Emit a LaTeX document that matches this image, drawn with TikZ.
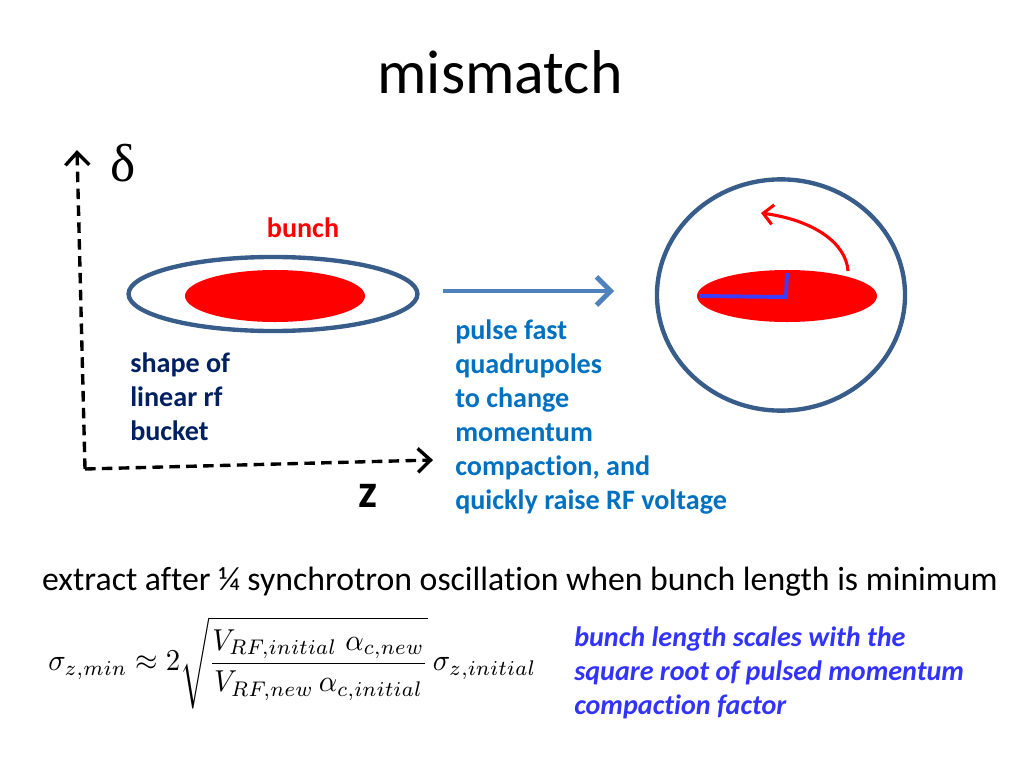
\documentclass[tikz,border=0pt]{standalone}
\usepackage{fontspec}
\usepackage{amsmath}
\usepackage{graphicx}
\setmainfont[Ligatures={NoCommon}]{Carlito}
\newfontfamily\greekfont{Liberation Serif}
\usetikzlibrary{shapes.geometric,arrows.meta}
\definecolor{bucketblue}{RGB}{56,93,138}
\definecolor{arrowblue}{RGB}{79,129,189}
\definecolor{navytext}{RGB}{0,32,96}
\definecolor{pulsetext}{RGB}{0,112,192}
\definecolor{notetext}{RGB}{51,51,255}
\definecolor{lineblue}{RGB}{60,60,255}
\tikzset{
  outline/.style={draw=bucketblue,line width=3.1pt,ellipse,inner sep=0pt},
  bunchfill/.style={fill=red,ellipse,inner sep=0pt,minimum width=4.5cm,minimum height=1.3cm},
  axis/.style={line width=2.4pt,dash pattern=on 7.5pt off 4.5pt,-{Straight Barb[length=9pt,width=17pt]}},
  textblock/.style={anchor=north west,align=left,inner sep=0pt,font=\fontsize{20}{24.2}\selectfont\bfseries}
}
\begin{document}
\begin{tikzpicture}[x=0.025cm,y=-0.025cm]
\useasboundingbox (0,0) rectangle (1024,768);
% title
\node (title) at (500,72) {\fontsize{44}{50}\selectfont mismatch};
% axes
\coordinate (origin) at (85,469);
\coordinate (dtip) at (77,150);
\coordinate (ztip) at (433,460);
\draw [axis] (origin) -- (dtip);
\draw [axis] (origin) -- (ztip);
\node (delta) at (123,163) {\greekfont\fontsize{38}{42}\selectfont δ};
\node (zlabel) at (368,496) {\fontsize{34}{38}\selectfont\bfseries z};
% rf bucket and bunch
\node [outline,minimum width=7.22cm,minimum height=1.85cm] (bucket) at (273,294) {};
\node [bunchfill] (bunchL) at (275,296) {};
\node [text=red,font=\fontsize{20}{24}\selectfont\bfseries] (bunchlabel) at (303,228) {bunch};
\node [textblock,text=navytext] (shape) at (130,352) {shape of\\linear rf\\bucket};
% pulse arrow
\coordinate (pstart) at (443,291);
\coordinate (pend) at (614,291);
\draw [arrowblue,line width=3.5pt,-{Straight Barb[length=10pt,width=20pt]}] (pstart) -- (pend);
\node [textblock,text=pulsetext] (pulse) at (455,319) {pulse fast\\quadrupoles\\to change\\momentum\\compaction, and\\quickly raise RF voltage};
% rotated bucket
\node [outline,minimum width=6.2cm,minimum height=5.78cm] (phase) at (781,295) {};
\node [bunchfill] (bunchR) at (787,296) {};
\coordinate (lstart) at (700,296);
\coordinate (lcorner) at (786,297);
\coordinate (ltop) at (787,273);
\draw [lineblue,line width=2.8pt] (lstart) -- (lcorner) -- (ltop);
\coordinate (rstart) at (848,271);
\coordinate (rtip) at (761,213);
\draw [red,line width=2.2pt,-{Straight Barb[length=7pt,width=14pt]}] (rstart) .. controls (846,242) and (812,220) .. (rtip);
% bottom text
\node [inner sep=0pt,font=\fontsize{24}{28}\selectfont] (extract) at (520,582) {extract after ¼ synchrotron oscillation when bunch length is minimum};
\node [anchor=west,inner sep=0pt] (formula) at (48,663) {\resizebox*{12.2cm}{2.3cm}{$\sigma_{z,min} \approx 2\sqrt{\dfrac{V_{RF,initial}\;\alpha_{c,new}}{V_{RF,new}\,\alpha_{c,initial}}}\,\sigma_{z,initial}$}};
\node [textblock,text=notetext,font=\fontsize{20}{24.2}\selectfont\bfseries\itshape] (note) at (574,626) {bunch length scales with the\\square root of pulsed momentum\\compaction factor};
\end{tikzpicture}
\end{document}
